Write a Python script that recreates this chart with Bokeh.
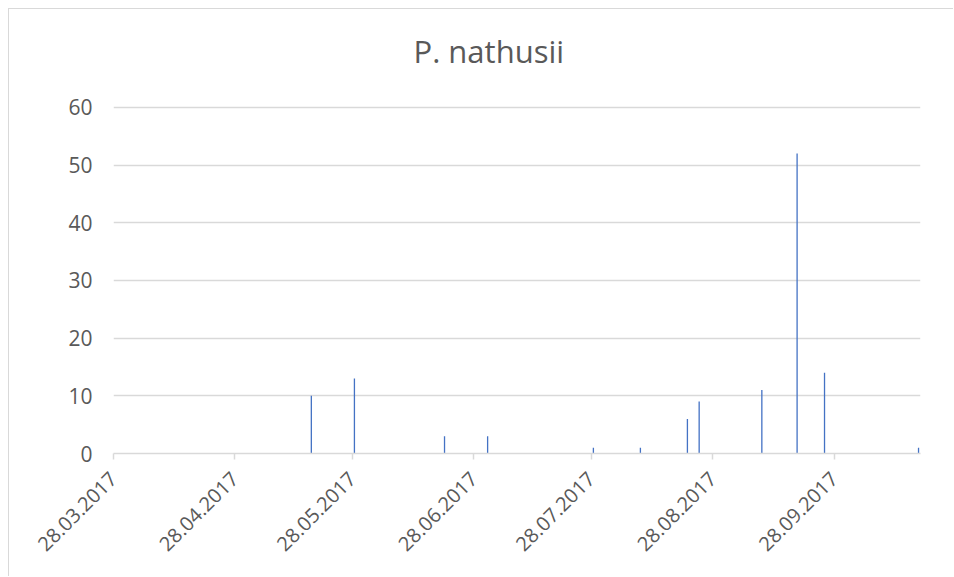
from datetime import datetime, timedelta
from math import pi

from bokeh.plotting import figure
from bokeh.models import FixedTicker, DatetimeTickFormatter, Range1d, Title
from bokeh.embed import file_html
from bokeh.resources import INLINE

# ---- data ----
title_text = "P. nathusii"
obs_dates = ["17.05.2017", "28.05.2017", "20.06.2017", "01.07.2017", "28.07.2017",
             "09.08.2017", "21.08.2017", "24.08.2017", "09.09.2017", "18.09.2017",
             "25.09.2017", "19.10.2017"]
counts = [10, 13, 3, 3, 1, 1, 6, 9, 11, 52, 14, 1]
tick_labels = ["28.03.2017", "28.04.2017", "28.05.2017", "28.06.2017",
               "28.07.2017", "28.08.2017", "28.09.2017"]
x_start = "28.03.2017"
x_end = "20.10.2017"
y_ticks = [0, 10, 20, 30, 40, 50, 60]

FONT = "Open Sans"
TXT = "#595959"
GRID = "#d9d9d9"
BAR = "#4472C4"

def parse(s):
    return datetime.strptime(s, "%d.%m.%Y")

# bars centred in their day slot, as on a date axis
xs = [parse(d) + timedelta(hours=12) for d in obs_dates]
ticks_ms = [parse(t).timestamp() * 1000 for t in tick_labels]

p = figure(width=945, height=568, x_axis_type="datetime",
           output_backend="svg", toolbar_location=None,
           x_range=Range1d(parse(x_start), parse(x_end)),
           y_range=Range1d(0, 63.1),
           min_border_left=104, min_border_right=34,
           min_border_bottom=124, min_border_top=10)

p.vbar(x=xs, top=counts, width=timedelta(hours=8).total_seconds() * 1000,
       fill_color=BAR, line_color=None)

t = Title(text=title_text, align="left", offset=300,
          text_font=FONT, text_font_size="31px", text_font_style="normal",
          text_color=TXT, standoff=36)
p.add_layout(t, "above")

p.outline_line_color = None
p.background_fill_color = "white"
p.border_fill_color = "white"

# x axis
xa = p.xaxis[0]
xa.ticker = FixedTicker(ticks=ticks_ms)
fmt = "%d.%m.%Y"
xa.formatter = DatetimeTickFormatter(microseconds=fmt, milliseconds=fmt, seconds=fmt,
                                     minsec=fmt, minutes=fmt, hourmin=fmt, hours=fmt,
                                     days=fmt, months=fmt, years=fmt)
xa.major_label_orientation = pi / 4
xa.axis_line_color = GRID
xa.axis_line_width = 1.5
xa.major_tick_line_color = GRID
xa.major_tick_line_width = 1.5
xa.major_tick_in = 0
xa.major_tick_out = 6
xa.minor_tick_line_color = None
xa.major_label_text_font = FONT
xa.major_label_text_font_size = "20px"
xa.major_label_text_color = TXT
xa.major_label_standoff = 16

# y axis
ya = p.yaxis[0]
ya.ticker = FixedTicker(ticks=y_ticks)
ya.axis_line_color = None
ya.major_tick_line_color = None
ya.major_tick_in = 0
ya.major_tick_out = 0
ya.minor_tick_line_color = None
ya.major_label_text_font = FONT
ya.major_label_text_font_size = "21px"
ya.major_label_text_color = TXT
ya.major_label_standoff = 21

p.xgrid.grid_line_color = None
p.ygrid.grid_line_color = GRID
p.ygrid.grid_line_width = 1.5

p.styles = {"margin-left": "8px", "margin-top": "8px",
            "border-left": "1px solid #d9d9d9", "border-top": "1px solid #d9d9d9"}

open("out.html", "w").write(file_html(p, INLINE))
